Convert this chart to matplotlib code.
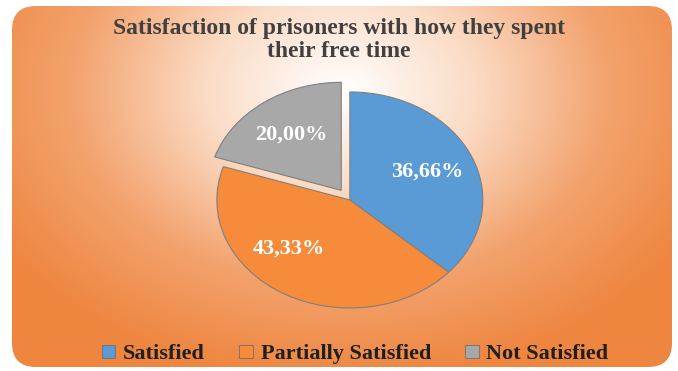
import numpy as np
import matplotlib
matplotlib.use("Agg")
import matplotlib.pyplot as plt
from matplotlib.patches import FancyBboxPatch, Rectangle
from matplotlib.colors import LinearSegmentedColormap

# data
categories = ["Satisfied", "Partially Satisfied", "Not Satisfied"]
shares = [36.66, 43.33, 20.00]
colors = ["#5B9BD5", "#F68B3C", "#A8A8A8"]
explode = [0, 0, 0.11]
title = "Satisfaction of prisoners with how they spent\ntheir free time"

plt.rcParams["font.family"] = ["Liberation Serif", "DejaVu Serif"]

W, H = 678, 371
fig = plt.figure(figsize=(W / 100, H / 100), dpi=100)
fig.patch.set_facecolor("white")

# background: rounded frame with radial white -> orange gradient
bg = fig.add_axes([0, 0, 1, 1])
bg.set_xlim(0, W)
bg.set_ylim(H, 0)
bg.axis("off")
yy, xx = np.mgrid[0:H, 0:W]
r = np.sqrt(((xx - 340) / 400) ** 2 + ((yy - 90) / 290) ** 2)
cmap = LinearSegmentedColormap.from_list("bg", ["#FFFFFF", "#FBDCC6", "#F3A36E", "#EE8640"])
im = bg.imshow(np.clip(r, 0, 1), cmap=cmap, vmin=0, vmax=1, extent=(0, W, H, 0),
               interpolation="bilinear")
frame = FancyBboxPatch((12, 6), 660, 361, boxstyle="round,pad=0,rounding_size=24",
                       transform=bg.transData, facecolor="none", edgecolor="none")
bg.add_patch(frame)
im.set_clip_path(frame)

fig.text(0.5, 0.893, title, ha="center", va="center", fontsize=17,
         fontweight="bold", color="#404040", linespacing=1.12)

# pie (flattened slightly like the perspective view)
ax = fig.add_axes([0.261, 0.0825, 0.510, 0.757])
wedges, texts, autotexts = ax.pie(
    shares, colors=colors, explode=explode, startangle=90, counterclock=False,
    autopct=lambda p: f"{p:.2f}%".replace(".", ","), pctdistance=0.64,
    wedgeprops=dict(edgecolor="#7f7f7f", linewidth=0.8),
    textprops=dict(color="white", fontsize=16, fontweight="bold"),
)
ax.set_aspect("auto")
ax.set_xlim(-1.3, 1.3)
ax.set_ylim(-1.3, 1.3)
x, y = autotexts[1].get_position()
autotexts[1].set_position((x - 0.14, y + 0.1))

handles = [Rectangle((0, 0), 1, 1, facecolor=c, edgecolor="#6f6f6f", linewidth=0.6)
           for c in colors]
leg = fig.legend(handles, categories, loc="center", bbox_to_anchor=(0.524, 0.045),
                 ncol=3, frameon=False, handlelength=0.6, handleheight=0.5,
                 handletextpad=0.35, columnspacing=1.55,
                 prop=dict(size=16, weight="bold"))
for t in leg.get_texts():
    t.set_color("#1f1f1f")

fig.savefig("out.png", dpi=100)
